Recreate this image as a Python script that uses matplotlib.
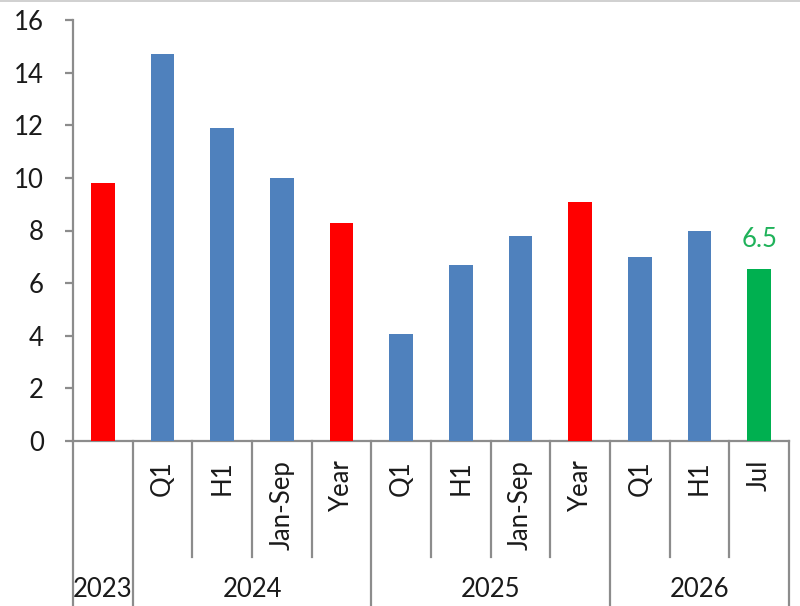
import matplotlib.pyplot as plt
import numpy as np
from matplotlib.lines import Line2D

# data
periods = ['', 'Q1', 'H1', 'Jan-Sep', 'Year', 'Q1', 'H1', 'Jan-Sep', 'Year', 'Q1', 'H1', 'Jul']
values = [9.8, 14.7, 11.9, 10.0, 8.3, 4.05, 6.7, 7.8, 9.1, 7.0, 8.0, 6.55]
kinds = ['year', 'part', 'part', 'part', 'year', 'part', 'part', 'part', 'year', 'part', 'part', 'latest']
years = ['2023', '2024', '2025', '2026']
year_sizes = [1, 4, 4, 3]
bar_labels = [''] * 11 + ['6.5']

colors = {'year': '#ff0000', 'part': '#4f81bd', 'latest': '#00b050'}
axis_grey = '#8c8c8c'
textsize = 18.5

plt.rcParams['font.family'] = ['Lato', 'DejaVu Sans']

fig = plt.figure(figsize=(8, 6.06), dpi=100)
ax = fig.add_axes([73 / 800, 165 / 606, 716 / 800, 421 / 606])

x = np.arange(len(values))
bars = ax.bar(x, values, width=0.4, color=[colors[k] for k in kinds], zorder=3)
ax.bar_label(bars, labels=bar_labels, padding=12, color='#1fb25a', fontsize=textsize)

ax.set_xlim(-0.5, len(values) - 0.5)
ax.set_ylim(0, 16)
ax.set_yticks(np.arange(0, 17, 2))
ax.tick_params(axis='y', direction='out', length=6, width=1.6, color=axis_grey,
               labelsize=textsize, pad=15, labelcolor='#1a1a1a')
ax.set_xticks([])

for s in ['top', 'right']:
    ax.spines[s].set_visible(False)
for s in ['left', 'bottom']:
    ax.spines[s].set_color(axis_grey)
    ax.spines[s].set_linewidth(1.6)

# category labels, rotated
trans = ax.get_xaxis_transform()
for i, p in enumerate(periods):
    ax.text(i, -0.045, p, rotation=90, ha='center', va='top', fontsize=textsize,
            color='#1a1a1a', transform=trans)

# separators: short within a year, long between years
bounds = np.cumsum([0] + year_sizes) - 0.5
for b in np.arange(-0.5, len(values), 1.0):
    ybot = -0.42 if b in bounds else -0.275
    ax.add_line(Line2D([b, b], [0, ybot], color=axis_grey, lw=1.6,
                       transform=trans, clip_on=False))

# year labels
for yr, lo, hi in zip(years, bounds[:-1], bounds[1:]):
    ax.text((lo + hi) / 2, -0.352, yr, ha='center', va='center', fontsize=textsize,
            color='#1a1a1a', transform=trans)

# thin frame line at the top of the picture
fig.add_artist(Line2D([0, 1], [0.998, 0.998], color='#c8c8c8', lw=1.2,
                      transform=fig.transFigure))

fig.savefig('out.png', dpi=100)
